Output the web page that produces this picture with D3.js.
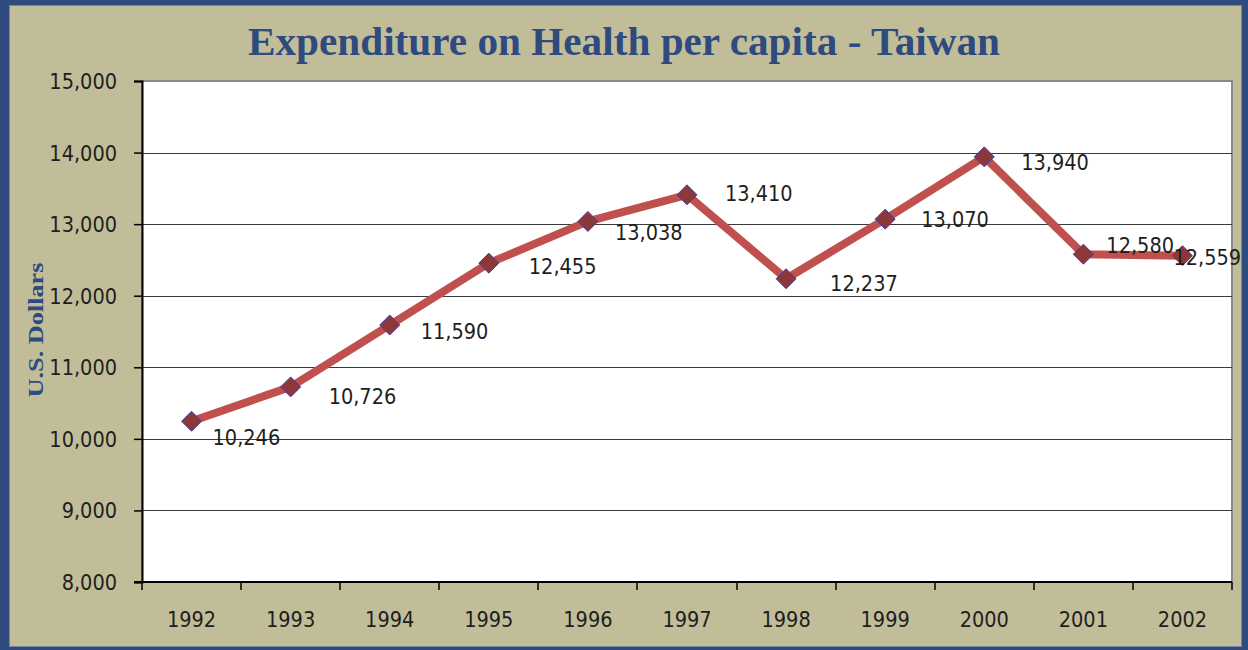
<!DOCTYPE html>
<html>
<head>
<meta charset="utf-8">
<script src="https://cdn.jsdelivr.net/npm/d3@7"></script>
<style>
  html, body { margin: 0; padding: 0; background: #2e4a7f; }
  svg { display: block; }
  .num { font-family: "DejaVu Sans Condensed", "DejaVu Sans", sans-serif; font-stretch: condensed; font-size: 21.5px; fill: #1e1e1e; }
</style>
</head>
<body>
<svg id="chart" width="1248" height="650"></svg>
<script>
// Health expenditure per capita, Taiwan (U.S. dollars)
const years = ["1992","1993","1994","1995","1996","1997","1998","1999","2000","2001","2002"];
const spending = [10246, 10726, 11590, 12455, 13038, 13410, 12237, 13070, 13940, 12580, 12559];
const yTicks = [8000, 9000, 10000, 11000, 12000, 13000, 14000, 15000];
// per-label nudges [dx, dy] from each marker to its value label
const labelNudge = [[21,16],[38,10],[31,6],[40,3],[27,11],[38,-1],[44,5],[36,0],[37,6],[23,-9],[-9,2]];

const W = 1248, H = 650;
const plot = { left: 142, top: 81, right: 1232, bottom: 582 };

const svg = d3.select("#chart");

// frame: blue border with khaki panel
svg.append("rect").attr("x", 0).attr("y", 0).attr("width", W).attr("height", H).attr("fill", "#2e4a7f");
svg.append("rect").attr("x", 9.5).attr("y", 5.5).attr("width", 1232).attr("height", 641)
  .attr("fill", "#c1bd98").attr("stroke", "#7a84a0").attr("stroke-width", 1);

const x = d3.scaleBand().domain(years).range([plot.left, plot.right]).paddingInner(0).paddingOuter(0);
const y = d3.scaleLinear().domain([8000, 15000]).range([plot.bottom, plot.top]);

// plot area with grey border
svg.append("rect").attr("x", plot.left).attr("y", plot.top)
  .attr("width", plot.right - plot.left).attr("height", plot.bottom - plot.top)
  .attr("fill", "#ffffff").attr("stroke", "#8a8a8a").attr("stroke-width", 2);

// horizontal gridlines
svg.append("g").selectAll("line").data(yTicks.filter(t => t > 8000 && t < 15000)).join("line")
  .attr("x1", plot.left).attr("x2", plot.right)
  .attr("y1", d => Math.round(y(d)) + 0.5).attr("y2", d => Math.round(y(d)) + 0.5)
  .attr("stroke", "#3a3a3a").attr("stroke-width", 1);

// y axis
const yAxis = svg.append("g").attr("transform", `translate(${plot.left},0)`)
  .call(d3.axisLeft(y).tickValues(yTicks).tickFormat(d3.format(",")).tickSize(8).tickPadding(17));
yAxis.select(".domain").attr("stroke", "#000").attr("stroke-width", 2);
yAxis.selectAll(".tick line").attr("stroke", "#000").attr("stroke-width", 1.5);
yAxis.selectAll(".tick text").attr("class", "num").attr("dy", "0.35em");

// x axis: ticks at category boundaries, labels centred on categories
const xAxis = svg.append("g").attr("transform", `translate(0,${plot.bottom})`);
xAxis.append("line").attr("x1", plot.left - 8).attr("x2", plot.right)
  .attr("y1", 0).attr("y2", 0).attr("stroke", "#000").attr("stroke-width", 2);
const bounds = years.map(d => x(d)).concat([x(years[years.length - 1]) + x.bandwidth()]);
xAxis.selectAll("line.tk").data(bounds).join("line").attr("class", "tk")
  .attr("x1", d => Math.round(d)).attr("x2", d => Math.round(d))
  .attr("y1", 0).attr("y2", 8).attr("stroke", "#000").attr("stroke-width", 1.5);
xAxis.selectAll("text").data(years).join("text").attr("class", "num")
  .attr("x", d => x(d) + x.bandwidth() / 2).attr("y", 45)
  .attr("text-anchor", "middle").text(d => d);

// series line
const pts = years.map((yr, i) => [x(yr) + x.bandwidth() / 2, y(spending[i])]);
svg.append("path").datum(pts)
  .attr("d", d3.line())
  .attr("fill", "none").attr("stroke", "#c0504d").attr("stroke-width", 8)
  .attr("stroke-linejoin", "round").attr("stroke-linecap", "round");

// diamond markers
svg.append("g").selectAll("path").data(pts).join("path")
  .attr("d", d => `M${d[0]},${d[1] - 10}L${d[0] + 10},${d[1]}L${d[0]},${d[1] + 10}L${d[0] - 10},${d[1]}Z`)
  .attr("fill", "#8c3838").attr("stroke", "#4a3aa0").attr("stroke-width", 1);

// value labels
svg.append("g").selectAll("text").data(pts).join("text").attr("class", "num")
  .attr("x", (d, i) => d[0] + labelNudge[i][0])
  .attr("y", (d, i) => d[1] + labelNudge[i][1])
  .attr("dy", "0.35em")
  .text((d, i) => d3.format(",")(spending[i]));

// title
svg.append("text").attr("x", 624).attr("y", 55).attr("text-anchor", "middle")
  .attr("font-family", "'Liberation Serif', 'DejaVu Serif', serif").attr("font-weight", "bold")
  .attr("font-size", 40).attr("fill", "#2e4a7f")
  .attr("textLength", 752).attr("lengthAdjust", "spacingAndGlyphs")
  .text("Expenditure on Health per capita - Taiwan");

// y axis title
svg.append("text").attr("transform", "translate(43,330) rotate(-90)").attr("text-anchor", "middle")
  .attr("font-family", "'Liberation Serif', 'DejaVu Serif', serif").attr("font-weight", "bold")
  .attr("font-size", 20).attr("fill", "#2e4a7f")
  .attr("textLength", 135).attr("lengthAdjust", "spacingAndGlyphs")
  .text("U.S. Dollars");
</script>
</body>
</html>
